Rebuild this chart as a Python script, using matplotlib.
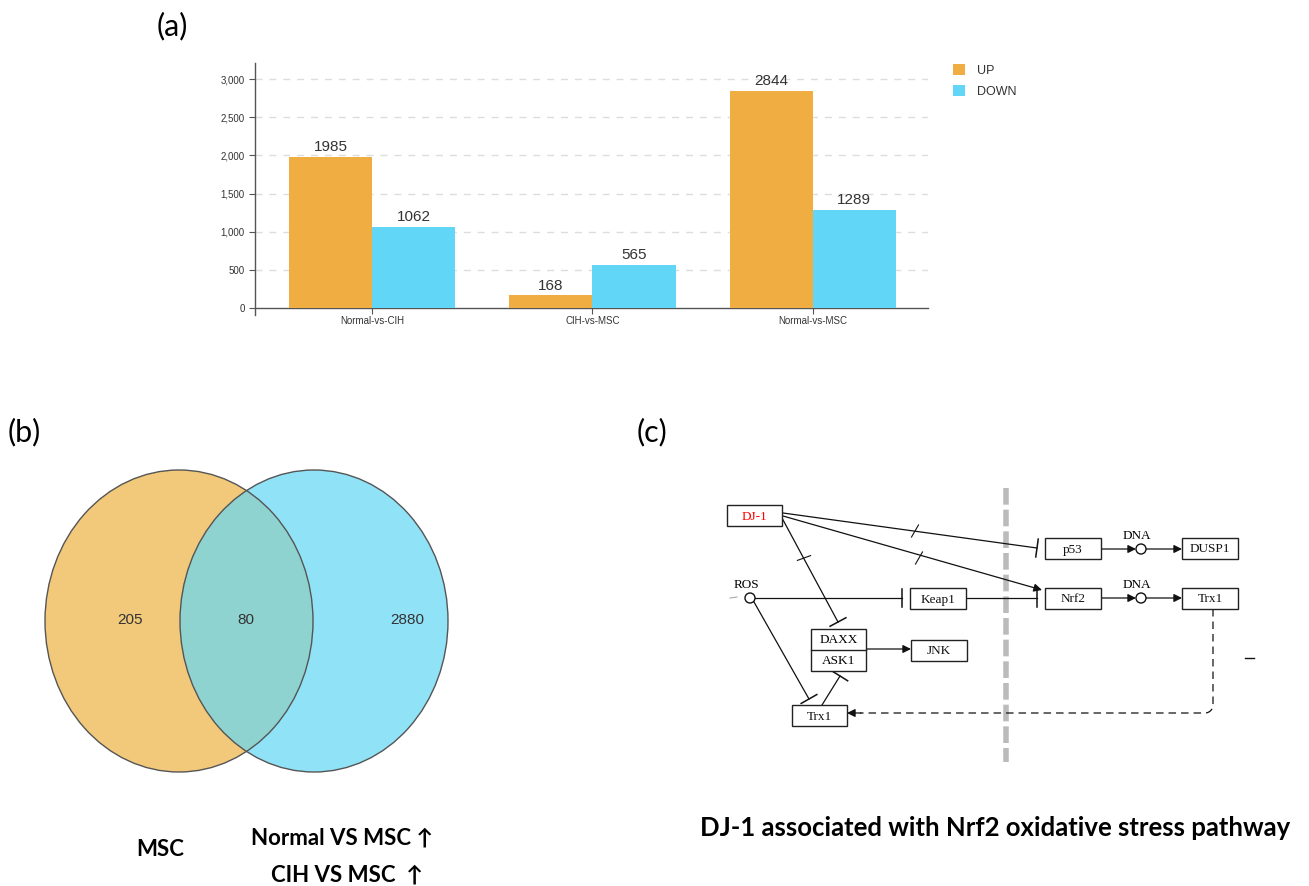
import numpy as np
import matplotlib.pyplot as plt
from matplotlib.patches import Ellipse, Rectangle, Circle
from matplotlib.ticker import FuncFormatter

# --- data ---
comparisons = ['Normal-vs-CIH', 'CIH-vs-MSC', 'Normal-vs-MSC']
up_counts = [1985, 168, 2844]
down_counts = [1062, 565, 1289]

venn_sets = ['MSC', 'Normal VS MSC \u2191\nCIH VS MSC  \u2191']
venn_counts = [205, 80, 2880]   # only left, overlap, only right

# pathway nodes: name -> (x0, y0, x1, y1) in figure pixels
nodes = {
    'DJ-1': (727, 505, 782, 526),
    'p53': (1045, 538, 1101, 559),
    'DUSP1': (1182, 538, 1238, 559),
    'Keap1': (910, 588, 966, 609),
    'Nrf2': (1045, 588, 1101, 609),
    'Trx1_r': (1182, 588, 1238, 609),
    'JNK': (911, 640, 967, 661),
    'Trx1_b': (792, 705, 847, 726),
}

W, H = 1309, 886
fig = plt.figure(figsize=(W / 100, H / 100), dpi=100)

# overlay in pixel coordinates for the venn + pathway
ov = fig.add_axes([0, 0, 1, 1])
ov.set_xlim(0, W)
ov.set_ylim(H, 0)
ov.axis('off')
ov.patch.set_alpha(0)

label_font = ['Lato', 'DejaVu Sans']
for lab, x, y in [('(a)', 157, 26), ('(b)', 8, 432), ('(c)', 637, 432)]:
    ov.text(x, y, lab, fontsize=22, family=label_font, ha='left', va='center')

# --- (a) bar chart ---
ax = fig.add_axes([255 / W, 1 - 315 / H, (928 - 255) / W, (315 - 63) / H])
x = np.arange(len(comparisons))
bw = 0.377
b1 = ax.bar(x - bw / 2, up_counts, bw, color='#F0AE42', label='UP', zorder=3)
b2 = ax.bar(x + bw / 2, down_counts, bw, color='#61D6F6', label='DOWN', zorder=3)
ax.bar_label(b1, padding=2, fontsize=11, color='#333333', family='Liberation Sans')
ax.bar_label(b2, padding=2, fontsize=11, color='#333333', family='Liberation Sans')
ax.set_xlim(-0.532, 2.523)
ax.set_ylim(-90, 3210)
ax.set_yticks(range(0, 3001, 500))
ax.yaxis.set_major_formatter(FuncFormatter(lambda v, p: f'{v:,.0f}'))
ax.set_xticks(x)
ax.set_xticklabels(comparisons)
for s in ['top', 'right']:
    ax.spines[s].set_visible(False)
ax.spines['bottom'].set_position(('data', 0))
for s in ['left', 'bottom']:
    ax.spines[s].set_color('#555555')
    ax.spines[s].set_linewidth(1)
ax.tick_params(axis='both', labelsize=7, colors='#555555', labelcolor='#333333', length=4)
ax.tick_params(axis='x', pad=2)
for v in range(500, 3001, 500):
    ax.axhline(v, color='#DDDDDD', lw=1, dashes=(5, 5), zorder=1)
for lbl in ax.get_xticklabels() + ax.get_yticklabels():
    lbl.set_family('Liberation Sans')
ax.patch.set_alpha(0)
fig.legend(handles=[b1, b2], loc='upper left', bbox_to_anchor=(942 / W, 1 - 53 / H),
           frameon=False, handlelength=0.9, handleheight=0.9,
           handletextpad=1.0, labelspacing=0.68, labelcolor='#333333',
           prop={'family': 'Liberation Sans', 'size': 9})

# --- (b) venn ---
lc, rc, ew, eh = (179, 621), (314, 621), 268, 302
left = Ellipse(lc, ew, eh, facecolor='#F2C97A', edgecolor='none', zorder=2)
right = Ellipse(rc, ew, eh, facecolor='#90E2F7', edgecolor='none', zorder=2)
ov.add_patch(left)
ov.add_patch(right)
inter = Ellipse(lc, ew, eh, facecolor='#8FD3D0', edgecolor='none', zorder=3)
ov.add_patch(inter)
inter.set_clip_path(Ellipse(rc, ew, eh, transform=ov.transData))
for c in (lc, rc):
    ov.add_patch(Ellipse(c, ew, eh, facecolor='none', edgecolor='#555555', lw=1, zorder=4))
for xx, n in zip([130, 246, 407], venn_counts):
    ov.text(xx, 620, str(n), fontsize=11, color='#333333', ha='center', va='center',
            family='Liberation Sans', zorder=5)
ov.text(160, 849, venn_sets[0], fontsize=16, fontweight='bold', family=label_font,
        ha='center', va='center')
l1, l2 = venn_sets[1].split('\n')
ov.text(433, 838, l1, fontsize=16, fontweight='bold', family=label_font, ha='right', va='center')
ov.text(423, 875, l2, fontsize=16, fontweight='bold', family=label_font, ha='right', va='center')

# --- (c) pathway ---
ser = 'Liberation Serif'
ov.plot([1006, 1006], [488, 762], color='#BBBBBB', lw=4, dashes=(3, 0.9), zorder=1)

for name, (x0, y0, x1, y1) in nodes.items():
    ov.add_patch(Rectangle((x0, y0), x1 - x0, y1 - y0, facecolor='white',
                           edgecolor='#222222', lw=1, zorder=3))
    txt = name.split('_')[0]
    ov.text((x0 + x1) / 2, (y0 + y1) / 2 + 1, txt, fontsize=9.5, family=ser, ha='center',
            va='center', color='red' if name == 'DJ-1' else '#111111', zorder=4)

# DAXX / ASK1 complex
ov.add_patch(Rectangle((811, 629), 55, 42, facecolor='white', edgecolor='#222222', lw=1, zorder=3))
ov.plot([811, 866], [650, 650], color='#222222', lw=1, zorder=4)
ov.text(838.5, 640, 'DAXX', fontsize=9.5, family=ser, ha='center', va='center', zorder=4)
ov.text(838.5, 661, 'ASK1', fontsize=9.5, family=ser, ha='center', va='center', zorder=4)


def arrow(p0, p1, ls='-'):
    ov.annotate('', xy=p1, xytext=p0, zorder=2,
                arrowprops=dict(arrowstyle='-|>', color='#111111', lw=0.9, linestyle=ls,
                                mutation_scale=12, shrinkA=0, shrinkB=0))


def inhibit(p0, p1, half=9):
    ov.plot([p0[0], p1[0]], [p0[1], p1[1]], color='#111111', lw=0.9, zorder=2)
    d = np.array(p1, float) - np.array(p0, float)
    d /= np.hypot(*d)
    n = np.array([-d[1], d[0]])
    a, b = np.array(p1) + n * half, np.array(p1) - n * half
    ov.plot([a[0], b[0]], [a[1], b[1]], color='#111111', lw=1.1, zorder=2)


def cross(p, ang=60, half=7):
    t = np.deg2rad(ang)
    ov.plot([p[0] - half * np.cos(t), p[0] + half * np.cos(t)],
            [p[1] + half * np.sin(t), p[1] - half * np.sin(t)], color='#111111', lw=0.8, zorder=2)


def node_circle(p, label=None):
    ov.add_patch(Circle(p, 5, facecolor='white', edgecolor='#111111', lw=1, zorder=4))
    if label:
        ov.text(p[0] - 4, p[1] - 13, label, fontsize=9.5, family=ser, ha='center', va='center')


inhibit((783, 513), (1037, 548))
cross((915, 531))
arrow((783, 516), (1042, 590))
cross((919, 558))
inhibit((782, 518), (838, 622))
cross((804, 558), ang=20)
inhibit((755, 598), (902, 598))
inhibit((966, 598), (1037, 598))
inhibit((754, 602), (809, 699))
inhibit((822, 705), (840, 676))

dna1, dna2, ros = (1141, 549), (1141, 598), (750, 598)
arrow((1101, 549), (dna1[0] - 5, 549))
arrow((dna1[0] + 5, 549), (1182, 549))
arrow((1101, 598), (dna2[0] - 5, 598))
arrow((dna2[0] + 5, 598), (1182, 598))
arrow((866, 649), (911, 649))
node_circle(dna1, 'DNA')
node_circle(dna2, 'DNA')
node_circle(ros, 'ROS')

# dashed feedback Trx1 -> Trx1
corner = np.linspace(0, np.pi / 2, 10)
cx = 1205 + 8 * np.cos(corner)
cy = 705 + 8 * np.sin(corner)
ov.plot(np.r_[1213, cx, 860], np.r_[609, cy, 713], color='#111111', lw=0.9,
        dashes=(6, 4), zorder=2)
arrow((861, 713), (847, 713))

ov.plot([730, 737], [598, 597], color='#AAAAAA', lw=0.8)
ov.plot([1245, 1254], [658, 658], color='#111111', lw=1)

ov.text(995, 828, 'DJ-1 associated with Nrf2 oxidative stress pathway', fontsize=18.5,
        fontweight='bold', family=label_font, ha='center', va='center')

fig.savefig('out.png', dpi=100)
